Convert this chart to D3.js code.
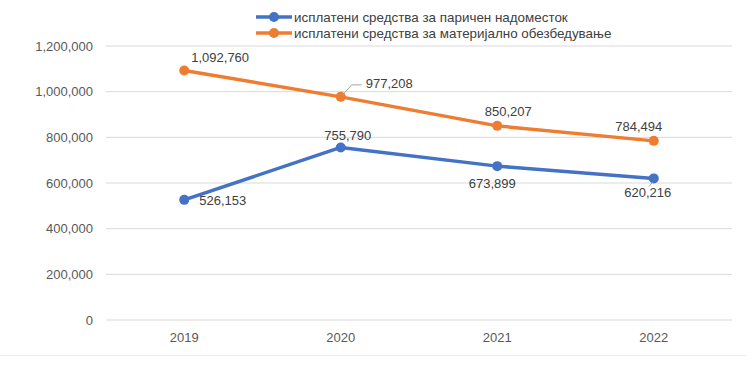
<!DOCTYPE html>
<html>
<head>
<meta charset="utf-8">
<script src="https://cdn.jsdelivr.net/npm/d3@7"></script>
<style>
  body { margin: 0; background: #fff; }
  text { font-family: "Liberation Sans", Arial, sans-serif; }
</style>
</head>
<body>
<div id="chart"></div>
<script>
// data
var years = ["2019", "2020", "2021", "2022"]
var cashBenefit = [526153, 755790, 673899, 620216]
var materialSupport = [1092760, 977208, 850207, 784494]
var seriesNames = [
  "исплатени средства за паричен надоместок",
  "исплатени средства за материјално обезбедување"
]
var yTicks = [0, 200000, 400000, 600000, 800000, 1000000, 1200000]

var width = 746
var height = 369
var margin = {top: 46, right: 14, bottom: 49, left: 106}

var svg = d3.select("#chart")
  .append("svg")
    .attr("width", width)
    .attr("height", height)

var x = d3.scaleBand()
  .domain(years)
  .range([margin.left, width - margin.right])

var y = d3.scaleLinear()
  .domain([0, 1200000])
  .range([height - margin.bottom, margin.top])

var fmt = d3.format(",")

// gridlines
svg.append("g")
  .selectAll("line")
  .data(yTicks)
  .enter()
  .append("line")
    .attr("x1", margin.left)
    .attr("x2", width - margin.right)
    .attr("y1", d => y(d))
    .attr("y2", d => y(d))
    .attr("stroke", "#d9d9d9")
    .attr("stroke-width", 1)

// y axis labels
var yAxis = svg.append("g")
  .attr("transform", "translate(" + (margin.left - 13) + ",0)")
  .call(d3.axisLeft(y).tickValues(yTicks).tickFormat(fmt).tickSize(0).tickPadding(0))
yAxis.select(".domain").remove()
yAxis.selectAll("text")
  .attr("fill", "#595959")
  .style("font-size", "13px")
  .style("font-family", "Liberation Sans, Arial, sans-serif")

// x axis labels
var xAxis = svg.append("g")
  .attr("transform", "translate(0," + (height - margin.bottom) + ")")
  .call(d3.axisBottom(x).tickSize(0).tickPadding(13))
xAxis.select(".domain").remove()
xAxis.selectAll("text")
  .attr("fill", "#595959")
  .style("font-size", "13px")
  .style("font-family", "Liberation Sans, Arial, sans-serif")

// faint bottom border
svg.append("line")
  .attr("x1", 0).attr("x2", width)
  .attr("y1", 355.5).attr("y2", 355.5)
  .attr("stroke", "#ececec")

var series = [
  {name: seriesNames[0], values: cashBenefit, color: "#4472C4",
   labels: [{dx: 15, dy: 1, anchor: "start"}, {dx: 7, dy: -12, anchor: "middle"},
            {dx: -5, dy: 17, anchor: "middle"}, {dx: -6, dy: 14, anchor: "middle"}]},
  {name: seriesNames[1], values: materialSupport, color: "#ED7D31",
   labels: [{dx: 7, dy: -13, anchor: "start"}, {dx: 25, dy: -13, anchor: "start", leader: true},
            {dx: 11, dy: -14, anchor: "middle"}, {dx: -15, dy: -14, anchor: "middle"}]}
]

var line = d3.line()
  .x((d, i) => x(years[i]) + x.bandwidth() / 2)
  .y(d => y(d))

series.forEach(function(s) {
  svg.append("path")
    .datum(s.values)
    .attr("d", line)
    .attr("fill", "none")
    .attr("stroke", s.color)
    .attr("stroke-width", 3.5)
    .attr("stroke-linejoin", "round")

  svg.append("g")
    .selectAll("circle")
    .data(s.values)
    .enter()
    .append("circle")
      .attr("cx", (d, i) => x(years[i]) + x.bandwidth() / 2)
      .attr("cy", d => y(d))
      .attr("r", 5)
      .attr("fill", s.color)

  s.values.forEach(function(v, i) {
    var px = x(years[i]) + x.bandwidth() / 2
    var py = y(v)
    var lb = s.labels[i]
    if (lb.leader) {
      svg.append("polyline")
        .attr("points", [[px + 1, py - 1], [px + 11, py - 12], [px + 21, py - 12]].join(" "))
        .attr("fill", "none")
        .attr("stroke", "#a6a6a6")
        .attr("stroke-width", 1)
    }
    svg.append("text")
      .attr("x", px + lb.dx)
      .attr("y", py + lb.dy)
      .attr("dy", "0.35em")
      .attr("text-anchor", lb.anchor)
      .attr("fill", "#404040")
      .style("font-size", "13px")
      .text(fmt(v))
  })
})

// tiny leader for 620,216
svg.append("line")
  .attr("x1", x("2022") + x.bandwidth() / 2 - 1)
  .attr("y1", y(620216) + 4)
  .attr("x2", x("2022") + x.bandwidth() / 2 - 5)
  .attr("y2", y(620216) + 8)
  .attr("stroke", "#a6a6a6")

// legend
var legend = svg.append("g")
  .selectAll("g")
  .data(series)
  .enter()
  .append("g")
    .attr("transform", (d, i) => "translate(256," + (17 + i * 16) + ")")

legend.append("line")
  .attr("x1", 0).attr("x2", 36)
  .attr("stroke", d => d.color)
  .attr("stroke-width", 3.5)
legend.append("circle")
  .attr("cx", 18)
  .attr("r", 5)
  .attr("fill", d => d.color)
legend.append("text")
  .attr("x", 38)
  .attr("dy", "0.35em")
  .attr("fill", "#404040")
  .style("font-size", "13.4px")
  .text(d => d.name)
</script>
</body>
</html>
